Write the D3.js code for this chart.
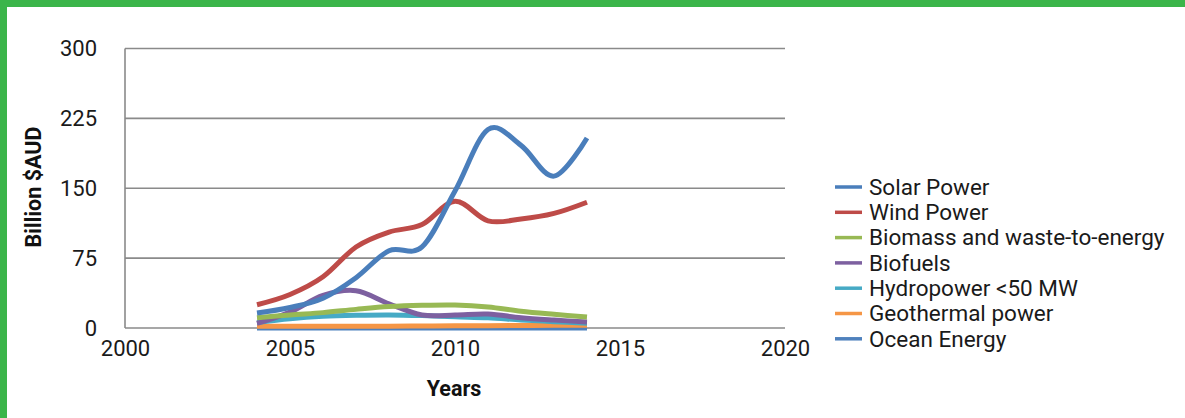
<!DOCTYPE html>
<html>
<head>
<meta charset="utf-8">
<script src="https://cdn.jsdelivr.net/npm/d3@7"></script>
<style>
  html, body { margin: 0; padding: 0; background: #fff; }
  svg { display: block; font-family: Roboto, "Noto Sans", sans-serif; }
</style>
</head>
<body>
<svg id="chart" width="1185" height="418"></svg>
<script>
// Investment by technology, 2004–2014 (billion AUD)
const years = [2004, 2005, 2006, 2007, 2008, 2009, 2010, 2011, 2012, 2013, 2014];
const seriesNames = ["Solar Power", "Wind Power", "Biomass and waste-to-energy", "Biofuels",
                     "Hydropower <50 MW", "Geothermal power", "Ocean Energy"];
const solar      = [16, 22, 32, 54, 83, 87, 147, 213, 196, 163, 204];
const wind       = [25, 36, 55, 87, 103, 111, 136, 115, 117, 123, 135];
const biomass    = [11, 14, 16.5, 20, 23, 24.4, 24.7, 22.6, 18, 14.7, 11.8];
const biofuels   = [5, 17, 35, 40, 26, 14, 14, 15, 11, 8.5, 6.5];
const hydro      = [6, 10, 12.5, 13.6, 14, 13.3, 12, 11, 8.6, 6.8, 5];
const geothermal = [1.8, 1.8, 1.8, 2, 2, 2.2, 2.4, 2.5, 2.7, 2.9, 3];
const ocean      = [0, 0, 0, 0, 0, 0, 0, 0, 0, 0, 0];
const xTicks = [2000, 2005, 2010, 2015, 2020];
const yTicks = [0, 75, 150, 225, 300];
const colors = ["#4a7ebb", "#be4b48", "#98b954", "#7d60a0", "#46aac5", "#f59646", "#4f81bd"];

const seriesValues = [solar, wind, biomass, biofuels, hydro, geothermal, ocean];

const svg = d3.select("#chart");

// frame
svg.append("rect").attr("x", 0).attr("y", 0).attr("width", 1185).attr("height", 7).attr("fill", "#3bb54a");
svg.append("rect").attr("x", 0).attr("y", 0).attr("width", 7).attr("height", 418).attr("fill", "#3bb54a");

const x = d3.scaleLinear().domain([2000, 2020]).range([125, 785]);
const y = d3.scaleLinear().domain([0, 300]).range([328, 48.5]);

// horizontal gridlines
svg.append("g")
  .selectAll("line").data(yTicks).join("line")
  .attr("x1", x(2000)).attr("x2", x(2020))
  .attr("y1", d => y(d)).attr("y2", d => y(d))
  .attr("stroke", "#8a8a8a").attr("stroke-width", 1.6);

// vertical axis line
svg.append("line")
  .attr("x1", x(2000)).attr("x2", x(2000)).attr("y1", y(0)).attr("y2", y(300))
  .attr("stroke", "#8a8a8a").attr("stroke-width", 1.6);

// y tick labels
const yAxis = d3.axisLeft(y).tickValues(yTicks).tickSize(0).tickPadding(28);
const gy = svg.append("g").attr("transform", `translate(${x(2000)},0)`).call(yAxis);
gy.select(".domain").remove();
gy.selectAll("text").attr("font-size", 22).attr("fill", "#1a1a1a").attr("font-family", "Roboto");

// x tick labels
const xAxis = d3.axisBottom(x).tickValues(xTicks).tickFormat(d3.format("d")).tickSize(0).tickPadding(12);
const gx = svg.append("g").attr("transform", `translate(0,${y(0)})`).call(xAxis);
gx.select(".domain").remove();
gx.selectAll("text").attr("font-size", 22).attr("fill", "#1a1a1a").attr("font-family", "Roboto");

// axis titles
svg.append("text")
  .attr("transform", `translate(41,187) rotate(-90)`)
  .attr("text-anchor", "middle")
  .attr("font-size", 21.5).attr("font-weight", "bold").attr("fill", "#111")
  .text("Billion $AUD");

svg.append("text")
  .attr("x", 454).attr("y", 396)
  .attr("text-anchor", "middle")
  .attr("font-size", 21.5).attr("font-weight", "bold").attr("fill", "#111")
  .text("Years");

// series lines (first series painted last, so it sits on top)
const line = d3.line()
  .x((d, i) => x(years[i]))
  .y(d => y(d))
  .curve(d3.curveCatmullRom.alpha(0));

const drawOrder = seriesValues.map((v, i) => ({ v, i })).reverse();
svg.append("g")
  .selectAll("path").data(drawOrder).join("path")
  .attr("d", d => line(d.v))
  .attr("fill", "none")
  .attr("stroke", d => colors[d.i])
  .attr("stroke-width", 5)
  .attr("stroke-linejoin", "round");

// legend
const legend = svg.append("g").attr("transform", "translate(835,187)");
const rows = legend.selectAll("g").data(seriesNames).join("g")
  .attr("transform", (d, i) => `translate(0,${i * 25.3})`);
rows.append("line")
  .attr("x1", 0).attr("x2", 27).attr("y1", 0).attr("y2", 0)
  .attr("stroke", (d, i) => colors[i]).attr("stroke-width", 3.5);
rows.append("text")
  .attr("x", 34).attr("y", 0).attr("dy", "0.35em")
  .attr("font-size", 22.5).attr("fill", "#1a1a1a")
  .text(d => d);
</script>
</body>
</html>
